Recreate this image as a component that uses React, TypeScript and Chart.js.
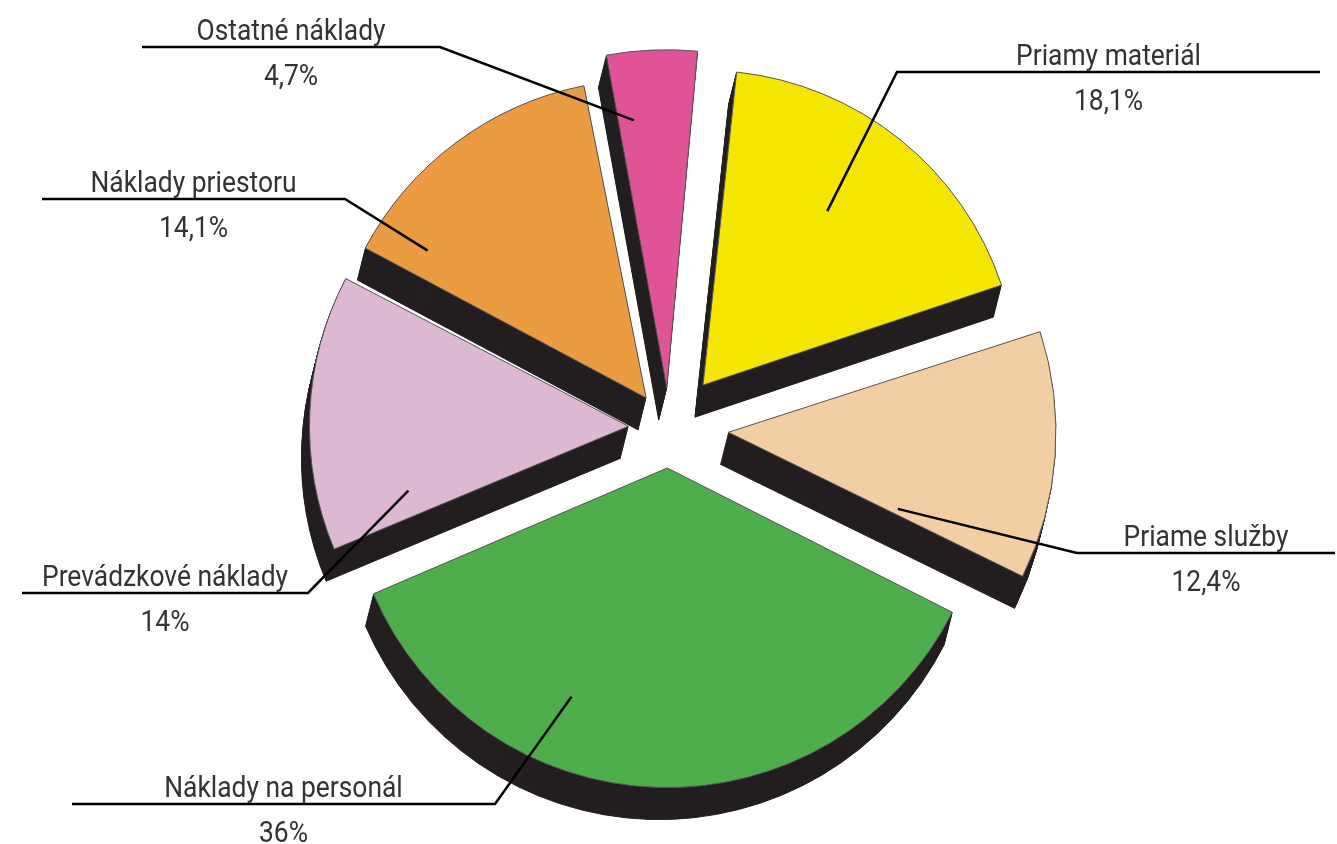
import React, { useEffect, useRef } from "react";
import { Chart, registerables } from "chart.js";

Chart.register(...registerables);

const categories = [
  "Priamy materiál",
  "Priame služby",
  "Náklady na personál",
  "Prevádzkové náklady",
  "Náklady priestoru",
  "Ostatné náklady",
];
const shares = [18.1, 12.4, 36, 14, 14.1, 4.7];
const valueLabels = ["18,1%", "12,4%", "36%", "14%", "14,1%", "4,7%"];
const colors = ["#f5e600", "#f1cfa2", "#4fae4c", "#dcb8d2", "#eb9b41", "#e05497"];
const explode = [220, 240, 160, 160, 150, 160];

// label layout (style only)
const labelLayout = [
  { lineY: 72, x0: 1320, x1: 897, aFrac: 0.45, rFrac: 0.69 },
  { lineY: 553, x0: 1335, x1: 1077, aFrac: 0.95, rFrac: 0.6 },
  { lineY: 804, x0: 72, x1: 495, aFrac: 0.66, rFrac: 0.8 },
  { lineY: 593, x0: 22, x1: 308, aFrac: 0.13, rFrac: 0.74 },
  { lineY: 199, x0: 42, x1: 345, aFrac: 0.12, rFrac: 0.85 },
  { lineY: 47, x0: 142, x1: 440, aFrac: 0.24, rFrac: 0.87 },
];

const DARK = "#231f20";
const EX_DX = -8;
const EX_DY = 32;

const extrudePlugin = {
  id: "extrude",
  beforeDatasetsDraw(chart: any) {
    const ctx = chart.ctx;
    const meta = chart.getDatasetMeta(0);
    const steps = 32;
    meta.data.forEach((el: any) => {
      const o = Object.create(el.options);
      o.backgroundColor = DARK;
      o.borderColor = DARK;
      const proxy = Object.create(el);
      proxy.options = o;
      for (let s = steps; s >= 1; s--) {
        ctx.save();
        ctx.translate((EX_DX * s) / steps, (EX_DY * s) / steps);
        el.draw.call(proxy, ctx);
        ctx.restore();
      }
    });
  },
};

const labelPlugin = {
  id: "leaderLabels",
  afterDatasetsDraw(chart: any) {
    const ctx = chart.ctx;
    const meta = chart.getDatasetMeta(0);
    meta.data.forEach((el: any, i: number) => {
      const { x, y, startAngle, endAngle, outerRadius } = el.getProps(
        ["x", "y", "startAngle", "endAngle", "outerRadius"],
        true
      );
      const mid = (startAngle + endAngle) / 2;
      const off = (el.options.offset || 0) / 4;
      const L = labelLayout[i];
      const px = x + Math.cos(mid) * off;
      const py = y + Math.sin(mid) * off;
      const ang = startAngle + (endAngle - startAngle) * L.aFrac;
      const r = outerRadius * L.rFrac;
      const ax = px + Math.cos(ang) * r;
      const ay = py + Math.sin(ang) * r;
      ctx.save();
      ctx.strokeStyle = "#000";
      ctx.lineWidth = 2.5;
      ctx.lineJoin = "miter";
      ctx.beginPath();
      ctx.moveTo(L.x0, L.lineY);
      ctx.lineTo(L.x1, L.lineY);
      ctx.lineTo(ax, ay);
      ctx.stroke();
      const cx = (L.x0 + L.x1) / 2;
      ctx.fillStyle = "#333";
      ctx.font = "30px Roboto";
      ctx.textAlign = "center";
      ctx.textBaseline = "alphabetic";
      ctx.translate(cx, 0);
      ctx.scale(0.88, 1);
      ctx.fillText(categories[i], 0, L.lineY - 7);
      ctx.fillText(valueLabels[i], 0, L.lineY + 38);
      ctx.restore();
    });
  },
};

export default function App() {
  const ref = useRef<HTMLCanvasElement | null>(null);
  useEffect(() => {
    if (!ref.current) return;
    const chart = new Chart(ref.current, {
      type: "pie",
      data: {
        labels: categories,
        datasets: [
          {
            data: shares,
            backgroundColor: colors,
            borderColor: "#555",
            borderWidth: 1,
            offset: explode,
          },
        ],
      },
      options: {
        responsive: true,
        maintainAspectRatio: false,
        animation: false,
        events: [],
        rotation: 6,
        radius: 310,
        layout: { padding: { top: 12 } },
        plugins: {
          legend: { display: false },
          tooltip: { enabled: false },
        },
      } as any,
      plugins: [extrudePlugin, labelPlugin],
    });
    return () => chart.destroy();
  }, []);
  return (
    <div style={{ position: "fixed", left: 0, top: 0, width: "100vw", height: "100vh", background: "#fff" }}>
      <canvas ref={ref} />
    </div>
  );
}
